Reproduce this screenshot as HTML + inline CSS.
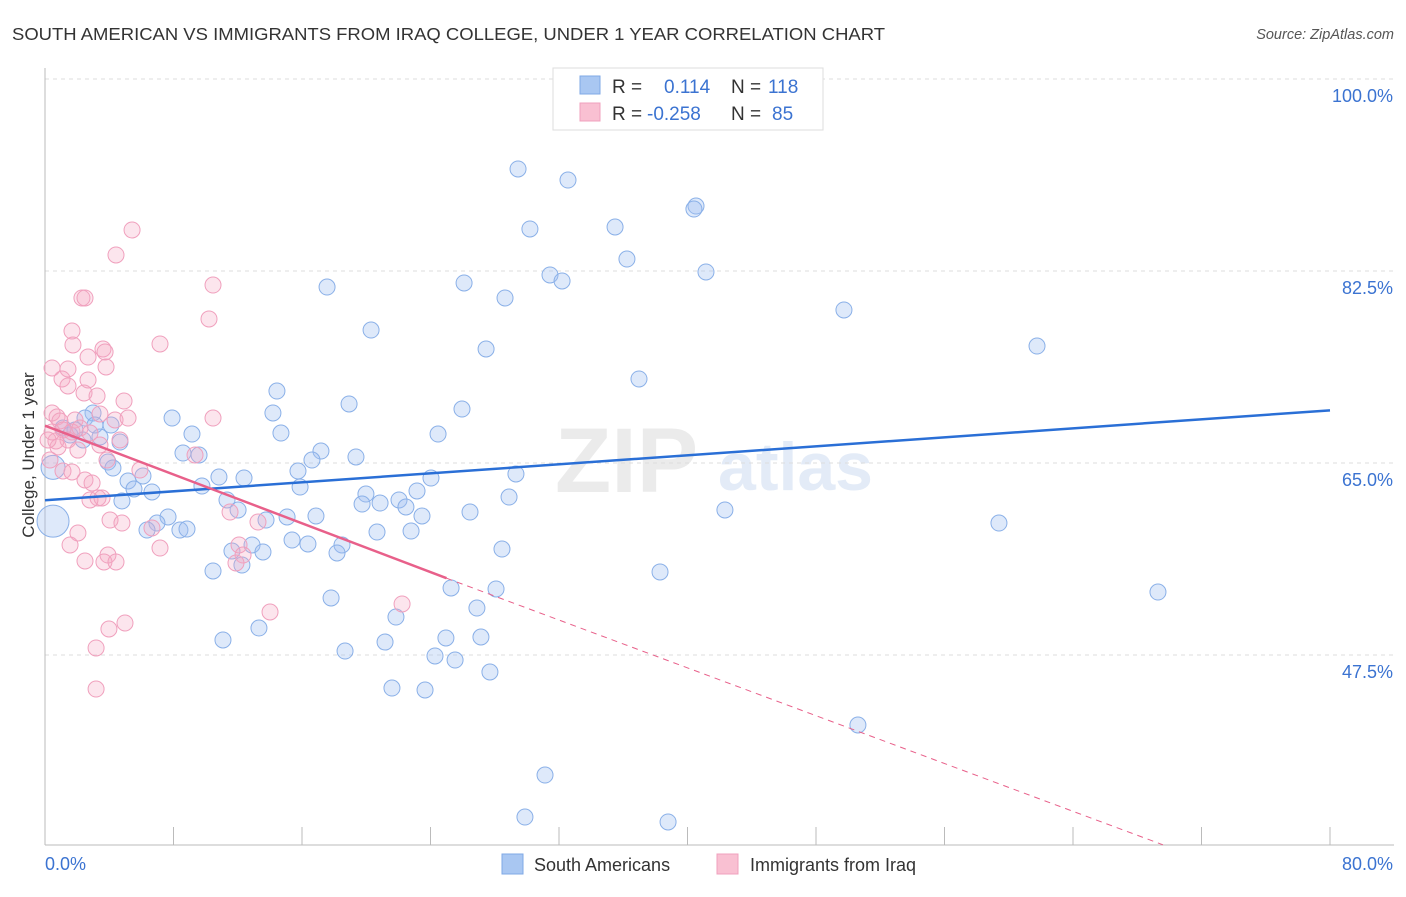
<!DOCTYPE html>
<html><head><meta charset="utf-8"><style>
body{margin:0;background:#fff;font-family:"Liberation Sans",sans-serif;}
svg text{font-family:"Liberation Sans",sans-serif;}
</style></head><body>
<svg id="chart" width="1406" height="892" viewBox="0 0 1406 892" xmlns="http://www.w3.org/2000/svg">
<text x="12" y="40" font-size="17.5" fill="#333" textLength="873" lengthAdjust="spacingAndGlyphs">SOUTH AMERICAN VS IMMIGRANTS FROM IRAQ COLLEGE, UNDER 1 YEAR CORRELATION CHART</text>
<text x="1394" y="39" font-size="14.5" fill="#555" font-style="italic" text-anchor="end">Source: ZipAtlas.com</text>
<text x="555" y="492" font-size="92" fill="#ebebeb" font-family="Liberation Serif" font-weight="bold">ZIP</text>
<text x="718" y="490" font-size="68" fill="#e3ebf7" font-weight="bold">atlas</text>
<g id="grid"></g>
<g id="axes"></g>
<g id="pts"></g>
<g id="trends"></g>
<text transform="translate(34,455) rotate(-90)" font-size="17" fill="#333" text-anchor="middle">College, Under 1 year</text>
<g>
<rect x="553" y="68" width="270" height="62" fill="#fff" stroke="#ddd"/>
<rect x="580" y="76" width="20" height="18" fill="#a9c7f2" stroke="#7fa8e6"/>
<rect x="580" y="103" width="20" height="18" fill="#f9c0d2" stroke="#f0a0bd"/>
<text x="612" y="93" font-size="19" fill="#333">R = </text><text x="664" y="93" font-size="19" fill="#3b73d1">0.114</text>
<text x="731" y="93" font-size="19" fill="#333">N = </text><text x="768" y="93" font-size="19" fill="#3b73d1">118</text>
<text x="612" y="120" font-size="19" fill="#333">R = </text><text x="647" y="120" font-size="19" fill="#3b73d1">-0.258</text>
<text x="731" y="120" font-size="19" fill="#333">N = </text><text x="772" y="120" font-size="19" fill="#3b73d1">85</text>
</g>
<g>
<rect x="502" y="854" width="21" height="20" fill="#a9c7f2" stroke="#7fa8e6"/>
<text x="534" y="871" font-size="18" fill="#333">South Americans</text>
<rect x="717" y="854" width="21" height="20" fill="#f9c0d2" stroke="#f0a0bd"/>
<text x="750" y="871" font-size="18" fill="#333">Immigrants from Iraq</text>
</g>
</svg>
<script>
const xTicks=[0,8,16,24,32,40,48,56,64,72,80];
const yTicks=[47.5,65,82.5,100];
const yTickLabels=["47.5%","65.0%","82.5%","100.0%"];
const blueR=0.114, pinkR=-0.258;
const bluePx=[[518,169],[568,180],[530,229],[615,227],[627,259],[696,206],[694,209],[706,272],[550,275],[562,281],[464,283],[505,298],[327,287],[371,330],[844,310],[1037,346],[486,349],[639,379],[277,391],[349,404],[462,409],[273,413],[172,418],[93,413],[83,440],[111,425],[192,434],[281,433],[438,434],[321,451],[356,457],[183,453],[199,455],[312,460],[298,471],[516,474],[431,478],[219,477],[244,478],[143,476],[128,481],[134,489],[152,492],[202,486],[300,487],[366,494],[417,491],[227,500],[122,501],[362,504],[380,503],[399,500],[406,507],[509,497],[238,510],[422,516],[470,512],[266,520],[287,517],[316,516],[168,517],[157,523],[147,530],[180,530],[187,529],[377,532],[411,531],[725,510],[999,523],[292,540],[252,545],[232,551],[263,552],[308,544],[342,545],[337,553],[502,549],[242,565],[213,571],[660,572],[1158,592],[451,588],[496,589],[331,598],[477,608],[396,617],[259,628],[223,640],[446,638],[481,637],[385,642],[345,651],[435,656],[455,660],[490,672],[392,688],[425,690],[858,725],[545,775],[525,817],[668,822],[63,428],[70,435],[75,430],[100,437],[108,462],[113,468],[85,418],[120,442],[95,425]];
const pinkPx=[[132,230],[116,255],[82,298],[85,298],[213,285],[209,319],[72,331],[160,344],[73,345],[103,349],[105,352],[88,357],[106,367],[52,368],[68,369],[62,379],[68,386],[88,380],[84,393],[97,396],[124,401],[213,418],[52,413],[57,417],[60,421],[75,420],[100,414],[115,420],[128,418],[63,430],[72,432],[80,428],[90,433],[68,440],[56,441],[58,447],[78,450],[100,445],[120,440],[195,455],[107,460],[140,470],[63,471],[72,472],[85,480],[92,483],[98,498],[102,498],[90,500],[110,520],[152,528],[122,523],[230,512],[258,522],[78,533],[70,545],[160,548],[108,555],[85,561],[104,562],[116,562],[239,545],[243,555],[236,563],[270,612],[402,604],[125,623],[109,629],[96,648],[96,689],[50,460],[52,432],[48,440]];
const blueX=bluePx.map(p=>+((p[0]-45)*80/1285).toFixed(2));
const blueY=bluePx.map(p=>+(100-(p[1]-79)*17.5/192).toFixed(2));
const pinkX=pinkPx.map(p=>+((p[0]-45)*80/1285).toFixed(2));
const pinkY=pinkPx.map(p=>+(100-(p[1]-79)*17.5/192).toFixed(2));
const bigX=[0.5,0.5], bigY=[64.6,59.7], bigR=[12,16];
const blueTrend=[[0,61.6],[80,69.8]];
const pinkTrend=[[0,68.4],[25,54.5],[69.6,30.2]];
const X=v=>45+v*1285/80, Y=v=>79+(100-v)*192/17.5;
const NS="http://www.w3.org/2000/svg";
function mk(parent,tag,at){const e=document.createElementNS(NS,tag);for(const k in at)e.setAttribute(k,at[k]);document.getElementById(parent).appendChild(e);return e;}
yTicks.forEach((t,i)=>{
 const l=mk('grid','line',{x1:45,x2:1394,y1:Y(t),y2:Y(t),stroke:'#ddd','stroke-dasharray':'4,4'});
 
 
 const tx=mk('grid','text',{x:1393,y:Y(t)+23,'font-size':18,fill:'#3b73d1','text-anchor':'end'});tx.textContent=yTickLabels[i];
 
 
});
const ax=mk('axes','line',{x1:45,x2:45,y1:68,y2:845,stroke:'#bbb'});


const bx=mk('axes','line',{x1:45,x2:1394,y1:845,y2:845,stroke:'#bbb'});


xTicks.forEach(t=>{const l=mk('axes','line',{x1:X(t),x2:X(t),y1:827,y2:845,stroke:'#bbb'});
 
 });
const xl0=mk('axes','text',{x:45,y:870,'font-size':18,fill:'#3b73d1'});xl0.textContent='0.0%';


const xl1=mk('axes','text',{x:1393,y:870,'font-size':18,fill:'#3b73d1','text-anchor':'end'});xl1.textContent='80.0%';


bigX.forEach((v,i)=>{const c=mk('pts','circle',{cx:X(v),cy:Y(bigY[i]),r:bigR[i],fill:'rgba(160,192,240,0.35)',stroke:'#8ab0e8','stroke-width':1});
 
 });
blueX.forEach((v,i)=>{const c=mk('pts','circle',{cx:X(v),cy:Y(blueY[i]),r:8,fill:'rgba(160,192,240,0.35)',stroke:'#8ab0e8','stroke-width':1});
 
 });
pinkX.forEach((v,i)=>{const c=mk('pts','circle',{cx:X(v),cy:Y(pinkY[i]),r:8,fill:'rgba(245,170,195,0.3)',stroke:'#f0a0bd','stroke-width':1});
 
 });
const bt=mk('trends','line',{x1:X(blueTrend[0][0]),y1:Y(blueTrend[0][1]),x2:X(blueTrend[1][0]),y2:Y(blueTrend[1][1]),stroke:'#2a6fd6','stroke-width':2.5});


const pt=mk('trends','line',{x1:X(pinkTrend[0][0]),y1:Y(pinkTrend[0][1]),x2:X(pinkTrend[1][0]),y2:Y(pinkTrend[1][1]),stroke:'#e8608a','stroke-width':2.5});


const pd=mk('trends','line',{x1:X(pinkTrend[1][0]),y1:Y(pinkTrend[1][1]),x2:X(pinkTrend[2][0]),y2:Y(pinkTrend[2][1]),stroke:'#e8608a','stroke-width':1,'stroke-dasharray':'6,5'});


</script>
</body></html>
